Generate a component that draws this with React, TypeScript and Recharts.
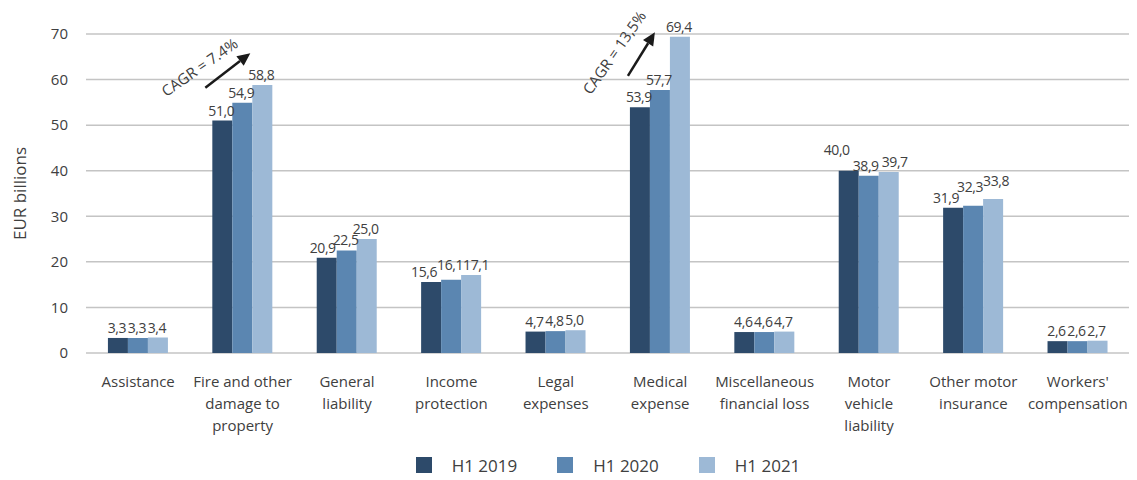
import React from 'react';
import { BarChart, Bar, XAxis, YAxis, CartesianGrid, Legend, LabelList } from 'recharts';

const categories = [
  'Assistance',
  'Fire and other\ndamage to\nproperty',
  'General\nliability',
  'Income\nprotection',
  'Legal\nexpenses',
  'Medical\nexpense',
  'Miscellaneous\nfinancial loss',
  'Motor\nvehicle\nliability',
  'Other motor\ninsurance',
  "Workers'\ncompensation",
];
const h12019 = [3.3, 51.0, 20.9, 15.6, 4.7, 53.9, 4.6, 40.0, 31.9, 2.6];
const h12020 = [3.3, 54.9, 22.5, 16.1, 4.8, 57.7, 4.6, 38.9, 32.3, 2.6];
const h12021 = [3.4, 58.8, 25.0, 17.1, 5.0, 69.4, 4.7, 39.7, 33.8, 2.7];
const yTicks = [0, 10, 20, 30, 40, 50, 60, 70];
const seriesNames = ['H1 2019', 'H1 2020', 'H1 2021'];
const seriesKeys = ['y2019', 'y2020', 'y2021'];
const cagrCategoryIndex = [1, 5];
const cagrText = ['CAGR = 7.4%', 'CAGR = 13,5%'];
const cagrFrom = [58.2, 60.8];
const cagrTo = [65.8, 70.4];
const cagrTextValue = [62.8, 66.0];

const COLORS = ['#2d4a6a', '#5b86b1', '#9db9d6'];
const TEXT = '#404040';
const FONT = '"Open Sans", sans-serif';

// annotation geometry (pixel offsets relative to the group's first bar)
const cagrGeom = [
  { fromDx: -7, toDx: 38, textDx: -13, angle: -35 },
  { fromDx: -2, toDx: 25, textDx: -16, angle: -55 },
];

// manual label nudges (pixels) as placed in the original: key = `${series}-${category}`
const labelNudge: Record<string, [number, number]> = {
  '0-3': [-7, 0], '1-3': [-1, -5], '2-3': [5, 0],
  '0-2': [-4, 0],
  '0-7': [-12, -11], '1-7': [-3, 0], '2-7': [6, 0],
  '0-8': [-7, 0], '1-8': [-3, -9], '2-8': [3, -8],
};

const data = categories.map((c, i) => ({
  category: c,
  y2019: h12019[i],
  y2020: h12020[i],
  y2021: h12021[i],
}));

const fmt = (v: number) => v.toFixed(1).replace('.', ',');

const makeLabel = (series: number) => (props: any) => {
  const { x, y, width, height, value, index } = props;
  const nudge = labelNudge[`${series}-${index}`] || [-1, 0];
  const cx = Number(x) + Number(width) / 2 + nudge[0];
  const els: any[] = [
    <text key="v" x={cx} y={Number(y) - 5 + nudge[1]} textAnchor="middle" fontSize={14} letterSpacing={-0.4} fill={TEXT} fontFamily={FONT}>
      {fmt(Number(value))}
    </text>,
  ];
  if (series === 0) {
    const n = cagrCategoryIndex.indexOf(index);
    if (n >= 0) {
      const base = Number(y) + Number(height);
      const ppu = Number(height) / Number(value);
      const g = cagrGeom[n];
      const x0 = Number(x);
      const x1 = x0 + g.fromDx;
      const y1 = base - cagrFrom[n] * ppu;
      const x2 = x0 + g.toDx;
      const y2 = base - cagrTo[n] * ppu;
      const tx = x0 + g.textDx;
      const ty = base - cagrTextValue[n] * ppu;
      const ang = Math.atan2(y2 - y1, x2 - x1);
      const hl = 13;
      const hw = 6;
      const bx = x2 - hl * Math.cos(ang);
      const by = y2 - hl * Math.sin(ang);
      const px = -Math.sin(ang) * hw;
      const py = Math.cos(ang) * hw;
      els.push(
        <g key="note">
          <line x1={x1} y1={y1} x2={bx} y2={by} stroke="#1a1a1a" strokeWidth={2.5} />
          <polygon points={`${x2},${y2} ${bx + px},${by + py} ${bx - px},${by - py}`} fill="#1a1a1a" />
          <text x={tx} y={ty} textAnchor="middle" dominantBaseline="central" fontSize={15} fill={TEXT} fontFamily={FONT}
            transform={`rotate(${g.angle} ${tx} ${ty})`}>
            {cagrText[n]}
          </text>
        </g>
      );
    }
  }
  return <g>{els}</g>;
};

const CategoryTick = (props: any) => {
  const { x, y, payload } = props;
  const lines = String(payload.value).split('\n');
  return (
    <text x={x} y={y} textAnchor="middle" fontSize={15} fill={TEXT} fontFamily={FONT}>
      {lines.map((l, i) => (
        <tspan key={i} x={x} dy={i === 0 ? 26 : 22}>{l}</tspan>
      ))}
    </text>
  );
};

const LegendContent = () => (
  <div style={{ display: 'flex', justifyContent: 'center', paddingLeft: 70, height: 30, alignItems: 'center', fontFamily: FONT }}>
    {seriesNames.map((s, i) => (
      <div key={s} style={{ display: 'flex', alignItems: 'center', marginRight: i < 2 ? 40 : 0 }}>
        <div style={{ width: 16, height: 16, background: COLORS[i], marginRight: 20 }} />
        <span style={{ fontSize: 17, color: TEXT }}>{s}</span>
      </div>
    ))}
  </div>
);

export default function App() {
  return (
    <div style={{ width: 1129, height: 472, fontFamily: FONT }}>
      <BarChart
        width={1129}
        height={472}
        data={data}
        margin={{ top: 26, right: 7, bottom: 0, left: 8 }}
        barCategoryGap="21%"
        barGap={0}
      >
        <CartesianGrid vertical={false} stroke="#c4c4c4" strokeWidth={1.5} />
        <XAxis
          dataKey="category"
          axisLine={false}
          tickLine={false}
          interval={0}
          height={97}
          tick={<CategoryTick />}
        />
        <YAxis
          domain={[0, 70]}
          ticks={yTicks}
          axisLine={false}
          tickLine={false}
          width={70}
          tickMargin={12}
          tick={{ fontSize: 15, fill: TEXT, fontFamily: FONT }}
          label={{
            content: (p: any) => {
              const vb = p.viewBox || {};
              const cx = 11;
              const cy = vb.y + vb.height / 2;
              return (
                <text x={cx} y={cy} textAnchor="middle" dominantBaseline="central" fontSize={17} fill={TEXT} fontFamily={FONT}
                  transform={`rotate(-90 ${cx} ${cy})`}>
                  EUR billions
                </text>
              );
            },
          }}
        />
        <Legend verticalAlign="bottom" height={30} content={<LegendContent />} />
        {seriesKeys.map((k, i) => (
          <Bar key={k} dataKey={k} name={seriesNames[i]} fill={COLORS[i]} isAnimationActive={false}>
            <LabelList dataKey={k} content={makeLabel(i)} />
          </Bar>
        ))}
      </BarChart>
    </div>
  );
}
